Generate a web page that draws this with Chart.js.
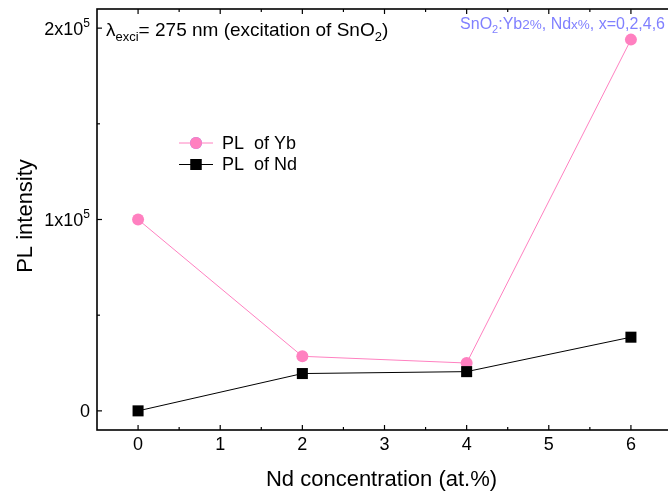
<!DOCTYPE html>
<html>
<head>
<meta charset="utf-8">
<script src="https://cdn.jsdelivr.net/npm/chart.js@4.4.0/dist/chart.umd.min.js"></script>
<style>
html, body { margin: 0; padding: 0; background: #fff; overflow: hidden; }
#wrap { width: 668px; height: 493px; overflow: hidden; }
</style>
</head>
<body>
<div id="wrap"><canvas id="chart" width="680" height="493"></canvas></div>
<script>
const ndConc = [0, 2, 4, 6];
const plYb = [100000, 28500, 25000, 194000];
const plNd = [0, 19500, 20500, 38500];
const xTicks = [0, 1, 2, 3, 4, 5, 6];
const yTicks = [0, 100000, 200000];
const yTickText = [['0', ''], ['1x10', '5'], ['2x10', '5']];

const FONT = '"Liberation Sans", Arial, sans-serif';
const PINK = '#ff80c0';

// draws text made of pieces: [text, size, dy]
function rich(ctx, parts, x, y, align) {
    let w = 0;
    parts.forEach(p => { ctx.font = p[1] + 'px ' + FONT; w += ctx.measureText(p[0]).width; });
    let cx = align === 'right' ? x - w : align === 'center' ? x - w / 2 : x;
    ctx.textAlign = 'left';
    ctx.textBaseline = 'alphabetic';
    parts.forEach(p => {
        ctx.font = p[1] + 'px ' + FONT;
        ctx.fillText(p[0], cx, y + (p[2] || 0));
        cx += ctx.measureText(p[0]).width;
    });
}

const frame = {
    id: 'frame',
    afterDraw(chart) {
        const {ctx, chartArea: a, scales: {x, y}} = chart;
        const seg = (x1, y1, x2, y2) => { ctx.beginPath(); ctx.moveTo(x1, y1); ctx.lineTo(x2, y2); ctx.stroke(); };
        ctx.save();
        ctx.strokeStyle = '#000';
        ctx.fillStyle = '#000';
        ctx.lineWidth = 1.6;
        ctx.strokeRect(a.left, a.top, a.right - a.left, a.bottom - a.top);

        // ticks point inward, minor ticks halfway between majors
        ctx.lineWidth = 1.2;
        xTicks.forEach(v => {
            const px = x.getPixelForValue(v);
            seg(px, a.bottom, px, a.bottom - 5);
            seg(px, a.top, px, a.top + 5);
            const m = x.getPixelForValue(v + 0.5);
            seg(m, a.bottom, m, a.bottom - 3);
            seg(m, a.top, m, a.top + 3);
        });
        yTicks.forEach((v, i) => {
            const py = y.getPixelForValue(v);
            seg(a.left, py, a.left + 5, py);
            if (i < yTicks.length - 1) {
                const m = y.getPixelForValue((v + yTicks[i + 1]) / 2);
                seg(a.left, m, a.left + 3, m);
            }
        });

        // tick labels
        ctx.textAlign = 'center';
        ctx.textBaseline = 'top';
        ctx.font = '18px ' + FONT;
        xTicks.forEach(v => ctx.fillText(String(v), x.getPixelForValue(v), a.bottom + 6));
        yTicks.forEach((v, i) => {
            const py = y.getPixelForValue(v);
            rich(ctx, [[yTickText[i][0], 18, 0], [yTickText[i][1], 12, -8]], a.left - 7, py + 6.5, 'right');
        });

        // axis titles
        ctx.font = '22px ' + FONT;
        ctx.textAlign = 'center';
        ctx.textBaseline = 'middle';
        ctx.fillText('Nd concentration (at.%)', (a.left + 668) / 2 - 1, 480);
        ctx.save();
        ctx.translate(26, 216);
        ctx.rotate(-Math.PI / 2);
        ctx.fillText('PL intensity', 0, 0);
        ctx.restore();

        // annotations
        rich(ctx, [['\u03bb', 19, 0], ['exci', 13, 5], ['= 275 nm (excitation of SnO', 19, 0], ['2', 13, 5], [')', 19, 0]], 106, 36, 'left');
        ctx.fillStyle = '#8080ff';
        rich(ctx, [['SnO', 16, 0], ['2', 11, 4], [':Yb', 16, 0], ['2%', 13.5, 0], [', Nd', 16, 0], ['x%', 13.5, 0], [', x=0,2,4,6', 16, 0]], 665, 29, 'right');

        // legend
        const rows = [[chart.data.datasets[0], 143], [chart.data.datasets[1], 164.5]];
        rows.forEach(([ds, ly]) => {
            ctx.strokeStyle = ds.borderColor;
            ctx.lineWidth = 1;
            seg(179, ly, 213, ly);
            Chart.helpers.drawPoint(ctx, {pointStyle: ds.pointStyle, radius: ds.pointRadius, borderWidth: 0}, 196, ly);
            ctx.fillStyle = ds.pointBackgroundColor;
            ctx.fill();
            ctx.fillStyle = '#000';
            ctx.font = '18px ' + FONT;
            ctx.textAlign = 'left';
            ctx.textBaseline = 'middle';
            ctx.fillText(ds.label, 222, ly + 1);
        });
        ctx.restore();
    }
};

const ctx = document.querySelector('#chart').getContext('2d');
const chart = new Chart(ctx, {
    type: 'line',
    data: {
        datasets: [{
            label: 'PL  of Yb',
            data: ndConc.map((c, i) => ({x: c, y: plYb[i]})),
            borderColor: PINK,
            borderWidth: 1,
            pointStyle: 'circle',
            pointRadius: 6,
            pointBackgroundColor: PINK,
            pointBorderWidth: 0,
            order: 1,
        }, {
            label: 'PL  of Nd',
            data: ndConc.map((c, i) => ({x: c, y: plNd[i]})),
            borderColor: '#000',
            borderWidth: 1,
            pointStyle: 'rect',
            pointRadius: 7.8,
            pointBackgroundColor: '#000',
            pointBorderWidth: 0,
            order: 0,
        }]
    },
    options: {
        responsive: false,
        animation: false,
        devicePixelRatio: 1,
        layout: {
            padding: {left: 97, right: 8, top: 9, bottom: 63}
        },
        scales: {
            x: {type: 'linear', min: -0.5, max: 6.5, display: false},
            y: {type: 'linear', min: -10000, max: 210000, display: false}
        },
        plugins: {
            legend: {display: false},
            tooltip: {enabled: false}
        }
    },
    plugins: [frame]
});
</script>
</body>
</html>
